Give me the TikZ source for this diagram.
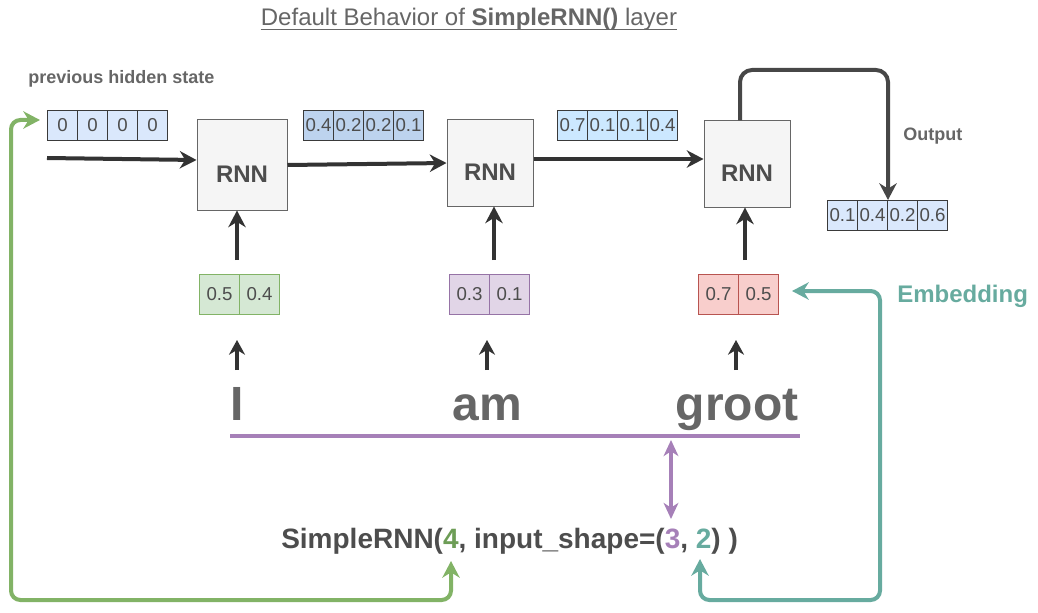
\documentclass[tikz,border=0pt]{standalone}
\usepackage{fontspec}
\setmainfont{Liberation Sans}
\usetikzlibrary{arrows.meta}
\definecolor{txt}{HTML}{4D4D4D}
\definecolor{gry}{HTML}{666666}
\definecolor{dk}{HTML}{333333}
\definecolor{dk2}{HTML}{474747}
\definecolor{cline}{HTML}{3A3A3A}
\definecolor{blueA}{HTML}{DAE8FC}
\definecolor{blueB}{HTML}{BDD3EE}
\definecolor{blueC}{HTML}{CCE8FF}
\definecolor{gfill}{HTML}{D5E8D4}
\definecolor{gline}{HTML}{82B366}
\definecolor{pfill}{HTML}{E1D5E7}
\definecolor{pline}{HTML}{9673A6}
\definecolor{rfill}{HTML}{F8CECC}
\definecolor{rline}{HTML}{B85450}
\definecolor{cgreen}{HTML}{6D9D56}
\definecolor{cpurple}{HTML}{A680B8}
\definecolor{cteal}{HTML}{67AB9F}
\definecolor{rnnfill}{HTML}{F5F5F5}
\definecolor{rnnline}{HTML}{666666}
\begin{document}
\begin{tikzpicture}[x=0.75pt,y=-0.75pt,
  tip/.style={-{Stealth[length=12.5pt,width=13pt,inset=4pt]}},
  dtip/.style={{Stealth[length=12.5pt,width=13pt,inset=4pt]}-{Stealth[length=12.5pt,width=13pt,inset=4pt]}},
  cell/.style={draw=cline, line width=0.75pt, minimum width=22.5pt, minimum height=22.5pt,
    inner sep=0pt, anchor=north west, text=txt, font=\fontsize{14}{14}\selectfont},
  ecell/.style={line width=0.75pt, minimum width=30pt, minimum height=30pt,
    inner sep=0pt, anchor=north west, text=txt, font=\fontsize{14}{14}\selectfont},
  rnnbox/.style={draw=rnnline, fill=rnnfill, line width=0.75pt, inner sep=0pt,
    label={[rnntext]center:RNN}},
  rnntext/.style={yshift=-6.75pt, text=txt, font=\bfseries\fontsize{18}{18}\selectfont},
  darr/.style={draw=dk, line width=3pt, tip},
  word/.style={anchor=base, text=gry, font=\bfseries\fontsize{36}{36}\selectfont, inner sep=0pt},
  lbl/.style={text=gry, font=\bfseries\fontsize{13.5}{13.5}\selectfont, inner sep=0pt, anchor=base west}
]
\useasboundingbox (0,0) rectangle (1038,613);

% title
\node[anchor=base, text=gry, font=\fontsize{18}{18}\selectfont, inner sep=0pt] (title) at (469,26)
  {Default Behavior of \textbf{SimpleRNN()} layer};
\draw[draw=gry, line width=1.1pt] ([yshift=-2.6pt]title.base west) -- ([yshift=-2.6pt]title.base east);

\node[lbl] (prev) at (28,84) {previous hidden state};
\node[lbl] (outlbl) at (903,141) {Output};
\node[anchor=base west, inner sep=0pt, text=cteal, font=\bfseries\fontsize{18}{18}\selectfont] (emb) at (897,302) {Embedding};

% hidden state vectors
\foreach \v [count=\i] in {0,0,0,0}
  \node[cell, fill=blueA] (h0-\i) at ({47+30*(\i-1)},110) {\v};
\foreach \v [count=\i] in {0.4,0.2,0.2,0.1}
  \node[cell, fill=blueB] (h1-\i) at ({303+30*(\i-1)},110) {\v};
\foreach \v [count=\i] in {0.7,0.1,0.1,0.4}
  \node[cell, fill=blueC] (h2-\i) at ({557+30*(\i-1)},110) {\v};
\foreach \v [count=\i] in {0.1,0.4,0.2,0.6}
  \node[cell, fill=blueA] (o-\i) at ({827+30*(\i-1)},200) {\v};

% RNN boxes
\node[rnnbox, minimum width=67.5pt, minimum height=67.5pt] (r1) at (242,165) {};
\node[rnnbox, minimum width=64.5pt, minimum height=64.5pt] (r2) at (490,163) {};
\node[rnnbox, minimum width=64.5pt, minimum height=64.5pt] (r3) at (747,164) {};

% embeddings
\foreach \v [count=\i] in {0.5,0.4}
  \node[ecell, draw=gline, fill=gfill] (e1-\i) at ({199+40*(\i-1)},274) {\v};
\foreach \v [count=\i] in {0.3,0.1}
  \node[ecell, draw=pline, fill=pfill] (e2-\i) at ({449+40*(\i-1)},274) {\v};
\foreach \v [count=\i] in {0.7,0.5}
  \node[ecell, draw=rline, fill=rfill] (e3-\i) at ({698+40*(\i-1)},274) {\v};

% words
\node[word] (w1) at (237,420) {I};
\node[word] (w2) at (487,420) {am};
\node[word] (w3) at (737,420) {groot};

% code
\node[anchor=base west, inner sep=0pt, text=txt, font=\bfseries\fontsize{21}{21}\selectfont] (code) at (281,548)
  {SimpleRNN(\textcolor{cgreen}{4}, input\_shape=(\textcolor{cpurple}{3}, \textcolor{cteal}{2}) )};

% coordinates
\coordinate (s0) at (47,158);
\coordinate (u1) at (237,260);
\coordinate (u2) at (494,260);
\coordinate (u3) at (745,260);
\coordinate (a1) at (237,370);
\coordinate (a2) at (487,370);
\coordinate (a3) at (736,370);
\coordinate (pl1) at (230,436);
\coordinate (pl2) at (800,436);
\coordinate (pa1) at (671,440);
\coordinate (pa2) at (671,519);
\coordinate (g1) at (451,561);
\coordinate (g2) at (40,120);
\coordinate (t1) at (700,559);
\coordinate (t2) at (792,291);

% horizontal arrows
\draw[darr] (s0) -- ([yshift=3.75pt]r1.west);
\draw[darr] (r1.east) -- (r2.west);
\draw[darr] ([yshift=3pt]r2.east) -- ([yshift=3.75pt]r3.west);
% output
\draw[darr, draw=dk2, rounded corners=9pt] ([xshift=-5.25pt]r3.north) -- (740,70) -| (o-2.north east);

% up arrows
\draw[darr] (u1) -- (u1 |- r1.south);
\draw[darr] (u2) -- (u2 |- r2.south);
\draw[darr] (u3) -- (u3 |- r3.south);
\draw[darr, -{Stealth[length=11pt,width=12pt,inset=3.5pt]}] (a1) -- ++(0,-30);
\draw[darr, -{Stealth[length=11pt,width=12pt,inset=3.5pt]}] (a2) -- ++(0,-30);
\draw[darr, -{Stealth[length=11pt,width=12pt,inset=3.5pt]}] (a3) -- ++(0,-30);

% purple
\draw[draw=cpurple, line width=3pt] (pl1) -- (pl2);
\draw[draw=cpurple, line width=2.6pt, {Stealth[length=12pt,width=11pt,inset=3.5pt]}-{Stealth[length=12pt,width=11pt,inset=3.5pt]}] (pa1) -- (pa2);

% green
\draw[draw=gline, line width=3pt, dtip, rounded corners=7pt] (g1) -- (451,600) -- (11,600) -- (11,120) -- (g2);
% teal
\draw[draw=cteal, line width=3pt, dtip, rounded corners=7pt] (t1) -- (700,600) -- (880,600) -- (880,291) -- (t2);
\end{tikzpicture}
\end{document}
